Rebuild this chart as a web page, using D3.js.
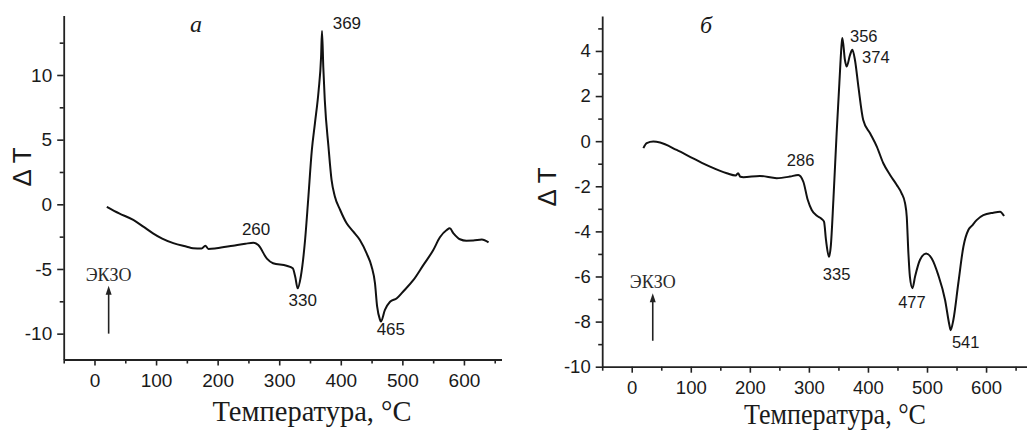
<!DOCTYPE html>
<html><head><meta charset="utf-8">
<script src="https://cdn.jsdelivr.net/npm/d3@7"></script>
<style>
html,body{margin:0;padding:0;background:#fff;}
svg{display:block;}
</style></head>
<body>
<svg id="c" width="1027" height="433"></svg>
<script>
// ---- data: panel а ----
const tempA = [20,40,63,80,95,110,128,150,160,174,180,185,198,225,245,258,266,280,290,312,322,326,330,335,342,347,353,358,364,368,369.5,371.6,374,380,385,390.5,399,409.5,420,431,442,450,455.5,459,463.5,465,471.7,480,491,501,518,534,550,561,572,577,583,593.5,604,615,629,640];
const dtA   = [-0.19,-0.7,-1.21,-1.75,-2.24,-2.65,-3.0,-3.28,-3.4,-3.42,-3.2,-3.45,-3.4,-3.2,-3.05,-2.97,-3.15,-4.2,-4.56,-4.75,-4.95,-5.6,-6.5,-5.6,-2.76,0.33,4.2,6.26,8.8,11.4,13.4,10.6,8.06,4.45,1.88,0.59,-0.44,-1.47,-2.1,-2.76,-3.8,-4.8,-6.1,-7.9,-8.9,-9.07,-8.17,-7.53,-7.27,-6.76,-5.85,-4.7,-3.55,-2.55,-1.99,-1.86,-2.24,-2.7,-2.81,-2.8,-2.72,-2.94];
// ---- data: panel б ----
const tempB = [19.7,25.4,36.6,48,76,104,132.6,161,176,180,184,189,217,245.5,268,282,290.6,298,304.8,313,321.7,325.6,329,334,337,341.5,347,351.6,355.6,356.7,361,364,369.7,373.6,378,383.8,392,403.6,415,426,437.5,448.8,457,462.8,465.7,468.5,471,475.3,479.8,488,498.5,508,519,530.6,537.9,540,544.6,553,561.6,570,575.7,584,595.4,612.4,623.7,630.5];
const dtB   = [-0.31,-0.09,-0.02,-0.06,-0.39,-0.76,-1.13,-1.42,-1.52,-1.42,-1.58,-1.6,-1.54,-1.64,-1.57,-1.5,-1.8,-2.6,-3.05,-3.3,-3.45,-3.57,-4.39,-5.13,-4.68,-2.6,0.36,2.58,4.35,4.58,3.6,3.31,3.83,4.05,3.6,2.42,0.94,0.35,-0.24,-0.98,-1.5,-1.94,-2.31,-2.75,-3.35,-4.97,-6.0,-6.52,-6.0,-5.27,-4.98,-5.2,-5.93,-7.04,-8.15,-8.38,-7.93,-6.3,-4.68,-3.94,-3.76,-3.5,-3.28,-3.17,-3.13,-3.32];
// ---- ticks & labels ----
const xTicks = [0,100,200,300,400,500,600];
const xMinorTicks = [-50,50,150,250,350,450,550,650];
const yTicksA = [-10,-5,0,5,10];
const yMinorTicksA = [-7.5,-2.5,2.5,7.5,12.5];
const yTicksB = [-10,-8,-6,-4,-2,0,2,4];
const yMinorTicksB = [-9,-7,-5,-3,-1,1,3,5];
const peaksA = [260,369,330,465];
const peaksB = [286,356,374,335,477,541];
const xTitle = "Температура, °C";
const yTitle = "Δ T";
const exoLabel = "ЭКЗО";
const panelLetters = ["a","б"];

const svg = d3.select("#c");

function nearestVal(temps, vals, t){
  let bi=0, bd=1e9;
  temps.forEach((d,i)=>{const dd=Math.abs(d-t); if(dd<bd){bd=dd;bi=i;}});
  return vals[bi];
}

function drawPanel(cfg){
  const g = svg.append("g");
  const x = d3.scaleLinear().domain(cfg.xDomain).range(cfg.xRange);
  const y = d3.scaleLinear().domain(cfg.yDomain).range(cfg.yRange);
  const x0 = cfg.xRange[0], yb = cfg.yRange[0];

  // minor ticks
  const xmin = d3.axisBottom(x).tickValues(cfg.xMinor).tickSize(4).tickFormat("");
  g.append("g").attr("transform",`translate(0,${yb})`).call(xmin)
    .call(a=>a.select(".domain").remove())
    .selectAll("line").attr("stroke","#222").attr("stroke-width",1.6);
  const ymin = d3.axisLeft(y).tickValues(cfg.yMinor.filter(v=>v<=cfg.yDomain[1])).tickSize(4).tickFormat("");
  g.append("g").attr("transform",`translate(${x0},0)`).call(ymin)
    .call(a=>a.select(".domain").remove())
    .selectAll("line").attr("stroke","#222").attr("stroke-width",1.6);

  // major axes
  const fmt = d => String(d);
  const xa = d3.axisBottom(x).tickValues(xTicks).tickFormat(fmt).tickSize(6).tickPadding(cfg.xPad).tickSizeOuter(0);
  const gx = g.append("g").attr("transform",`translate(0,${yb})`).call(xa);
  const ya = d3.axisLeft(y).tickValues(cfg.yTicks).tickFormat(fmt).tickSize(6.5).tickPadding(cfg.yPad).tickSizeOuter(0);
  const gy = g.append("g").attr("transform",`translate(${x0},0)`).call(ya);
  [gx,gy].forEach(a=>{
    a.select(".domain").attr("stroke","#222").attr("stroke-width",1.8);
    a.selectAll(".tick line").attr("stroke","#222").attr("stroke-width",1.6);
    a.selectAll(".tick text").attr("fill","#1a1a1a")
      .style("font-family","'Liberation Sans',Arial,sans-serif").style("font-size",cfg.tickFont+"px");
  });

  // curve
  const line = d3.line().x((d,i)=>x(cfg.temps[i])).y(d=>y(d)).curve(d3.curveMonotoneX);
  g.append("path").datum(cfg.vals).attr("d",line)
    .attr("fill","none").attr("stroke","#111").attr("stroke-width",2).attr("stroke-linejoin","round");

  // peak labels
  cfg.peaks.forEach((p,i)=>{
    const o = cfg.peakOff[i];
    const v = nearestVal(cfg.temps,cfg.vals,p);
    g.append("text").attr("x",x(p)+o[0]).attr("y",y(v)+o[1])
      .attr("text-anchor",o[2]).attr("fill","#1a1a1a")
      .style("font-family","'Liberation Sans',Arial,sans-serif").style("font-size",cfg.annFont+"px")
      .text(String(p));
  });

  // panel letter
  g.append("text").attr("x",cfg.letter[0]).attr("y",cfg.letter[1])
    .style("font-family","'Liberation Serif','Times New Roman',serif").style("font-style","italic")
    .style("font-size","24px").attr("fill","#1a1a1a").text(cfg.letterText);

  // EXO arrow
  const ax = x(cfg.arrow[0]);
  g.append("line").attr("x1",ax).attr("x2",ax).attr("y1",y(cfg.arrow[1])).attr("y2",y(cfg.arrow[2])+6)
    .attr("stroke","#222").attr("stroke-width",1.6);
  const ty = y(cfg.arrow[2]);
  g.append("path").attr("d",`M${ax},${ty} L${ax-3},${ty+9} L${ax+3},${ty+9} Z`).attr("fill","#222");
  g.append("text").attr("x",ax).attr("y",ty-5).attr("text-anchor","middle")
    .style("font-family","'Liberation Serif','Times New Roman',serif").style("font-size","18px")
    .attr("fill","#2a2a2a").text(exoLabel);

  // axis titles
  g.append("text").attr("x",cfg.xTitle[0]).attr("y",cfg.xTitle[1]).attr("text-anchor","middle")
    .style("font-family","'Liberation Serif','Times New Roman',serif").style("font-size",cfg.xTitleFont+"px")
    .attr("fill","#1a1a1a").attr("textLength",cfg.xTitle[2]).attr("lengthAdjust","spacingAndGlyphs")
    .text(xTitle);

  g.append("text").attr("transform",`translate(${cfg.yTitle[0]},${cfg.yTitle[1]}) rotate(-90)`)
    .attr("text-anchor","middle").attr("dy","0.35em")
    .style("font-family","'Liberation Sans',Arial,sans-serif").style("font-size","26px")
    .attr("fill","#1a1a1a").text(yTitle);
}

drawPanel({
  temps:tempA, vals:dtA, xDomain:[-50,661], xRange:[63.7,501.5],
  yDomain:[-12,14.6], yRange:[359.5,15.5], yTicks:yTicksA, yMinor:yMinorTicksA, xMinor:xMinorTicks,
  xPad:8, yPad:5, tickFont:19, annFont:17,
  peaks:peaksA, peakOff:[[1.5,-7.5,"middle"],[11,-2,"start"],[5,18,"middle"],[10,13.5,"middle"]],
  letter:[190,32], letterText:panelLetters[0],
  arrow:[23,-10,-6.3],
  xTitle:[312,421,199], xTitleFont:30, yTitle:[22,167]
});
drawPanel({
  temps:tempB, vals:dtB, xDomain:[-50,670], xRange:[602.2,1027.4],
  yDomain:[-10,5.55], yRange:[366.7,16], yTicks:yTicksB, yMinor:yMinorTicksB, xMinor:xMinorTicks,
  xPad:8, yPad:5, tickFont:18.5, annFont:16.5,
  peaks:peaksB, peakOff:[[0,-8.5,"middle"],[8,-1.5,"start"],[9.5,13,"start"],[7,23,"middle"],[-1.5,20,"middle"],[14.5,18,"middle"]],
  letter:[700,33], letterText:panelLetters[1],
  arrow:[35.6,-8.85,-6.74],
  xTitle:[835,424,182], xTitleFont:30, yTitle:[547,187]
});
</script>
</body></html>
